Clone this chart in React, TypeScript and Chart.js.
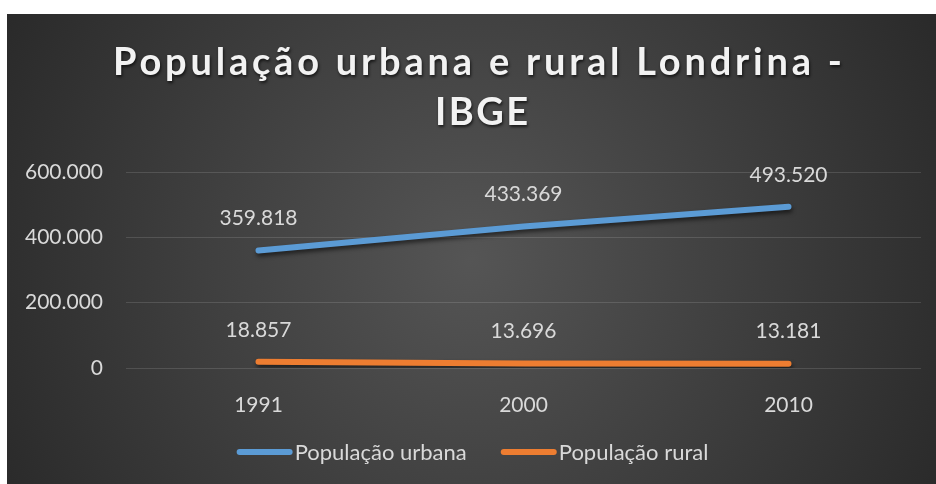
import React, { useEffect, useRef } from "react";
import { Chart, registerables } from "chart.js";

Chart.register(...registerables);

const categories = ["1991", "2000", "2010"];
const urbana = [359818, 433369, 493520];
const rural = [18857, 13696, 13181];
const seriesNames = ["População urbana", "População rural"];
const seriesColors = ["#5b9bd5", "#ed7d31"];
const titleLines = ["População urbana e rural Londrina -", "IBGE"];
const yMin = 0;
const yMax = 600000;
const yStep = 200000;

const FONT = "Lato, 'Open Sans', sans-serif";
const TEXT = "#d9d9d9";

const fmt = (n: number) => String(Math.round(n)).replace(/\B(?=(\d{3})+(?!\d))/g, ".");

const bgPlugin = {
  id: "bg",
  beforeDraw(chart: any) {
    const { ctx, width, height } = chart;
    ctx.save();
    const cx = width * 0.5;
    const cy = height * 0.52;
    const g = ctx.createRadialGradient(cx, cy, 0, cx, cy, Math.hypot(width, height) * 0.55);
    g.addColorStop(0, "#555555");
    g.addColorStop(1, "#262626");
    ctx.fillStyle = g;
    ctx.fillRect(0, 0, width, height);
    ctx.restore();
  },
};

const titlePlugin = {
  id: "customTitle",
  afterDraw(chart: any) {
    const { ctx } = chart;
    ctx.save();
    ctx.font = `bold 38px ${FONT}`;
    ctx.fillStyle = "#f2f2f2";
    ctx.textAlign = "left";
    ctx.textBaseline = "alphabetic";
    ctx.shadowColor = "rgba(0,0,0,0.65)";
    ctx.shadowBlur = 3;
    ctx.shadowOffsetX = 1;
    ctx.shadowOffsetY = 2;
    const baselines = [61, 111];
    const centers = [470.5, 474.5];
    const spacings = [3.8, 2.5];
    titleLines.forEach((t, i) => {
      (ctx as any).letterSpacing = `${spacings[i]}px`;
      const w = ctx.measureText(t).width - spacings[i];
      ctx.fillText(t, centers[i] - w / 2, baselines[i]);
    });
    ctx.restore();
  },
};

const shadowPlugin = {
  id: "lineShadow",
  beforeDatasetDraw(chart: any) {
    const ctx = chart.ctx;
    ctx.save();
    ctx.shadowColor = "rgba(0,0,0,0.55)";
    ctx.shadowBlur = 4;
    ctx.shadowOffsetX = 1;
    ctx.shadowOffsetY = 3;
  },
  afterDatasetDraw(chart: any) {
    chart.ctx.restore();
  },
};

const labelPlugin = {
  id: "dataLabels",
  afterDatasetsDraw(chart: any) {
    const ctx = chart.ctx;
    ctx.save();
    ctx.font = `21px ${FONT}`;
    ctx.fillStyle = TEXT;
    ctx.textAlign = "center";
    ctx.textBaseline = "middle";
    chart.data.datasets.forEach((ds: any, i: number) => {
      const meta = chart.getDatasetMeta(i);
      meta.data.forEach((pt: any, j: number) => {
        ctx.fillText(fmt(ds.data[j]), pt.x, pt.y - 32);
      });
    });
    ctx.restore();
  },
};

const legendPlugin = {
  id: "customLegend",
  afterDraw(chart: any) {
    const { ctx, width } = chart;
    ctx.save();
    ctx.font = `22px ${FONT}`;
    const sw = 56;
    const gap = 2;
    const itemGap = 34;
    const widths = seriesNames.map((n) => sw + gap + ctx.measureText(n).width);
    const total = widths.reduce((a, b) => a + b, 0) + itemGap * (widths.length - 1);
    let x = width / 2 - total / 2 + 1;
    const y = 438;
    seriesNames.forEach((n, i) => {
      ctx.strokeStyle = seriesColors[i];
      ctx.lineWidth = 6;
      ctx.lineCap = "round";
      ctx.beginPath();
      ctx.moveTo(x + 3, y);
      ctx.lineTo(x + sw - 3, y);
      ctx.stroke();
      ctx.fillStyle = TEXT;
      ctx.textAlign = "left";
      ctx.textBaseline = "middle";
      ctx.fillText(n, x + sw + gap, y + 1);
      x += widths[i] + itemGap;
    });
    ctx.restore();
  },
};

export default function App() {
  const ref = useRef<HTMLCanvasElement | null>(null);
  useEffect(() => {
    if (!ref.current) return;
    const chart = new Chart(ref.current, {
      type: "line",
      data: {
        labels: categories,
        datasets: [
          {
            label: seriesNames[0],
            data: urbana,
            borderColor: seriesColors[0],
            backgroundColor: seriesColors[0],
            borderWidth: 6,
            borderCapStyle: "round",
            borderJoinStyle: "round",
            pointRadius: 0,
            tension: 0,
          },
          {
            label: seriesNames[1],
            data: rural,
            borderColor: seriesColors[1],
            backgroundColor: seriesColors[1],
            borderWidth: 6,
            borderCapStyle: "round",
            borderJoinStyle: "round",
            pointRadius: 0,
            tension: 0,
          },
        ],
      },
      options: {
        responsive: false,
        animation: false,
        layout: { padding: { top: 158, right: 15, bottom: 66, left: 0 } },
        plugins: {
          legend: { display: false },
          title: { display: false },
          tooltip: { enabled: false },
        },
        scales: {
          x: {
            offset: true,
            grid: { display: false },
            border: { display: false },
            ticks: { color: TEXT, font: { family: FONT, size: 21 }, padding: 17 },
            afterFit: (s: any) => {
              s.height = 50;
            },
          },
          y: {
            min: yMin,
            max: yMax,
            grid: { color: "rgba(255,255,255,0.13)", lineWidth: 1, drawTicks: false },
            border: { display: false },
            ticks: {
              stepSize: yStep,
              color: TEXT,
              font: { family: FONT, size: 21 },
              padding: 23,
              callback: (v: any) => fmt(Number(v)),
            },
            afterFit: (s: any) => {
              s.width = 119;
            },
          },
        },
      },
      plugins: [bgPlugin, shadowPlugin, labelPlugin, titlePlugin, legendPlugin],
    } as any);
    return () => chart.destroy();
  }, []);
  return (
    <div style={{ position: "fixed", left: 7, top: 14, width: 929, height: 470 }}>
      <canvas ref={ref} width={929} height={470} style={{ display: "block" }} />
    </div>
  );
}
